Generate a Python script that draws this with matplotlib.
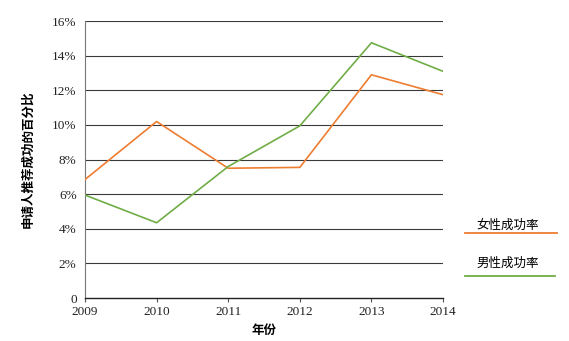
import matplotlib.pyplot as plt
from matplotlib.lines import Line2D
from matplotlib.ticker import FuncFormatter

# Data
years = [2009, 2010, 2011, 2012, 2013, 2014]
female_rate = [6.85, 10.2, 7.5, 7.55, 12.9, 11.75]
male_rate = [5.95, 4.35, 7.6, 9.95, 14.75, 13.1]
yticks = [0, 2, 4, 6, 8, 10, 12, 14, 16]

orange = '#ED7D31'
green = '#70AD47'
serif = ['Liberation Serif', 'Noto Sans CJK SC']
cjk = ['Noto Sans CJK SC', 'DejaVu Sans']

fig = plt.figure(figsize=(5.69, 3.41), dpi=100)
ax = fig.add_axes([0.1494, 0.126, 0.6292, 0.812])

for y in yticks[1:]:
    ax.axhline(y, color='#3a3a3a', lw=0.8, zorder=1)

ax.plot(years, female_rate, color=orange, lw=1.2, zorder=3)
ax.plot(years, male_rate, color=green, lw=1.2, zorder=3)

ax.set_xlim(years[0], years[-1])
ax.set_ylim(0, 16)
ax.set_xticks(years)
ax.set_yticks(yticks)
ax.yaxis.set_major_formatter(FuncFormatter(lambda v, p: '0' if v == 0 else f'{v:g}%'))

for lab in ax.get_xticklabels() + ax.get_yticklabels():
    lab.set_family(serif)
    lab.set_fontsize(9.5)
    lab.set_color('#222222')

ax.spines['top'].set_visible(False)
ax.spines['right'].set_visible(False)
ax.spines['left'].set_color('#777777')
ax.spines['bottom'].set_color('#222222')
ax.spines['bottom'].set_linewidth(1.0)
ax.tick_params(axis='y', length=0, pad=6)
ax.tick_params(axis='x', length=3, direction='out', color='#555555', pad=3)

ax.set_ylabel('申请人推荐成功的百分比', family=cjk, fontsize=9, fontweight='bold', labelpad=13)
ax.set_xlabel('年份', family=cjk, fontsize=9, fontweight='bold', labelpad=4)

# legend drawn by hand at the right side
fig.text(0.893, 0.338, '女性成功率', family=cjk, fontsize=9, ha='center', va='center')
fig.add_artist(Line2D([465/569, 557/569], [1 - 233/341, 1 - 233/341], color=orange, lw=1.3))
fig.text(0.893, 0.228, '男性成功率', family=cjk, fontsize=9, ha='center', va='center')
fig.add_artist(Line2D([465/569, 555/569], [1 - 276/341, 1 - 276/341], color=green, lw=1.3))

fig.savefig('out.png', dpi=100)
